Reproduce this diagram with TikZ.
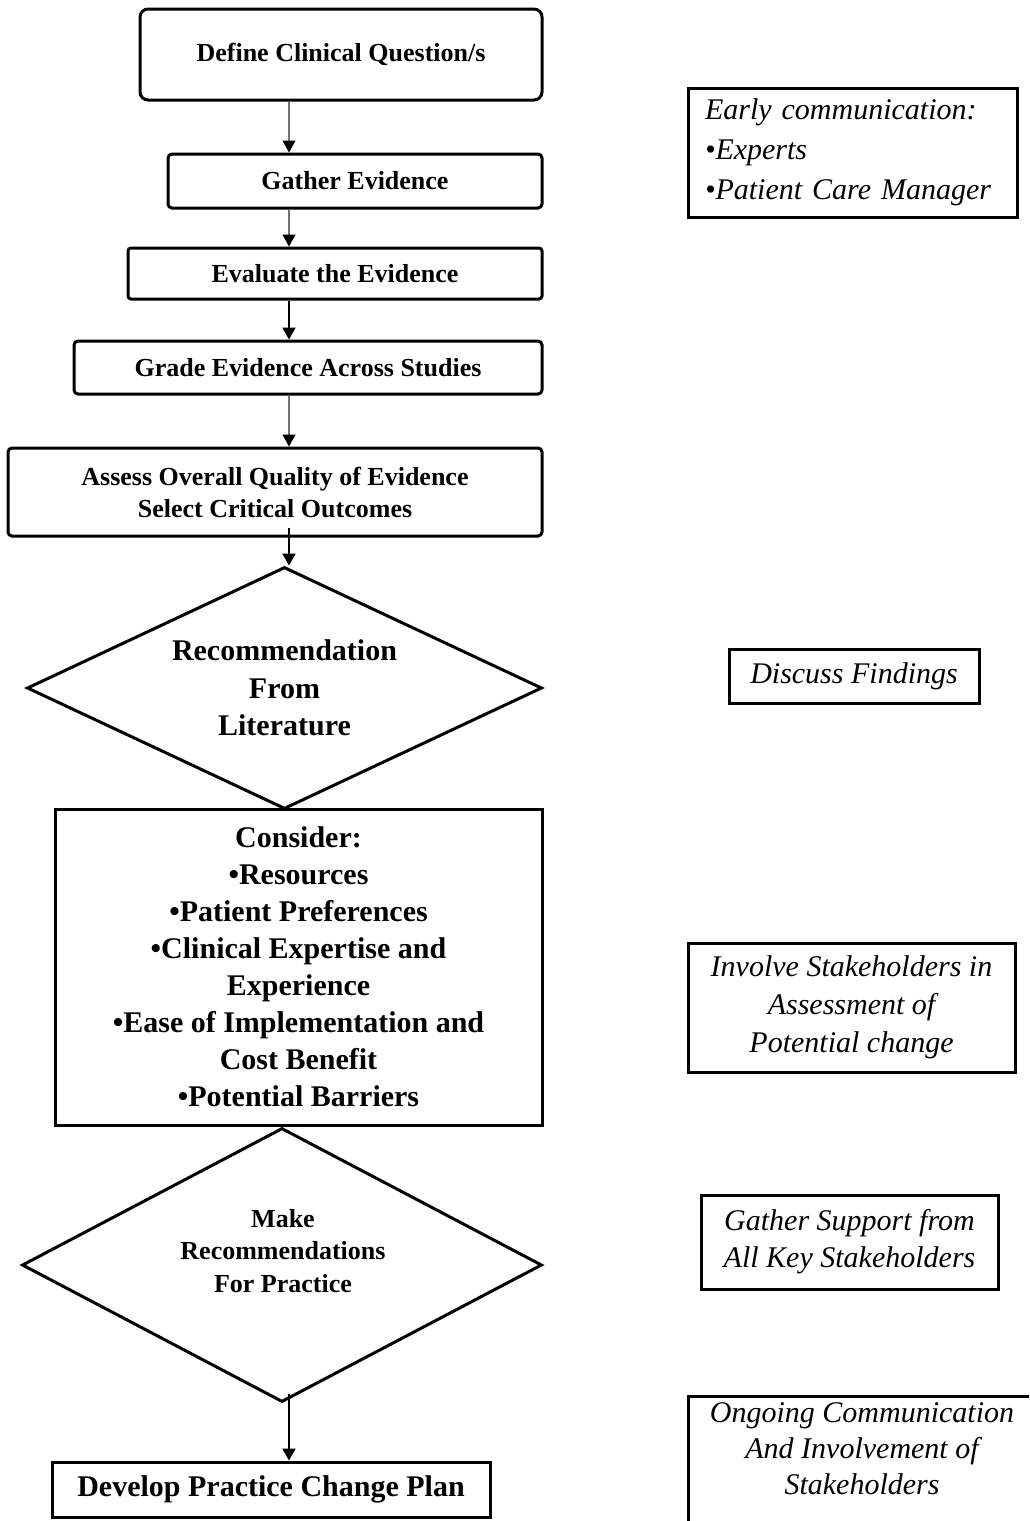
\documentclass[tikz,border=0pt]{standalone}
\usepackage{fontspec}
\setmainfont{Liberation Serif}
\usetikzlibrary{shapes.geometric,arrows.meta}

\begin{document}
\begin{tikzpicture}[x=1pt,y=-1pt,
  stepbox/.style={draw, line width=3pt, inner sep=0pt, align=center,
    font=\fontsize{26}{32}\selectfont\bfseries},
  bigbox/.style={draw, line width=3pt, inner sep=0pt, align=center,
    font=\fontsize{30}{37}\selectfont\bfseries},
  sidebox/.style={draw, line width=3pt, inner sep=0pt, align=center,
    font=\fontsize{30}{38}\selectfont\itshape},
  decision/.style={diamond, draw, line width=3pt, inner sep=0pt, align=center},
  thinarr/.style={draw=black!55, line width=1.2pt,
    -{Triangle[width=13pt,length=12pt,color=black]}},
  thickarr/.style={draw=black, line width=2pt,
    -{Triangle[width=13pt,length=12pt]}}
]
\useasboundingbox (0,0) rectangle (1029,1521);
\clip (0,0) rectangle (1029,1521);

% main flow
\node[stepbox, rounded corners=8pt, minimum width=402pt, minimum height=91pt]
  (def) at (341,54.5) {Define Clinical Question/s};
\node[stepbox, rounded corners=4pt, minimum width=374pt, minimum height=54pt]
  (gat) at (355,181) {Gather Evidence};
\node[stepbox, rounded corners=3pt, minimum width=414pt, minimum height=51pt]
  (eva) at (335,273.5) {Evaluate the Evidence};
\node[stepbox, rounded corners=4pt, minimum width=468pt, minimum height=53pt]
  (gra) at (308,367.5) {Grade Evidence Across Studies};
\node[stepbox, rounded corners=4pt, minimum width=534pt, minimum height=88pt]
  (ass) at (275,492) {Assess Overall Quality of Evidence\\Select Critical Outcomes};
\node[decision, aspect=2.13, minimum width=515pt, minimum height=242pt,
  font=\fontsize{30}{37.5}\selectfont\bfseries]
  (d1) at (284.5,688) {Recommendation\\From\\Literature};
\node[bigbox, minimum width=487pt, minimum height=316pt]
  (con) at (298.5,967) {Consider:\\•Resources\\•Patient Preferences\\•Clinical Expertise and\\Experience\\•Ease of Implementation and\\Cost Benefit\\•Potential Barriers};
\node[decision, aspect=1.9, minimum width=520pt, minimum height=274pt]
  (d2) at (282,1265) {};
\node[align=center, inner sep=0pt, font=\fontsize{26}{32.5}\selectfont\bfseries]
  (d2t) at (283,1251) {Make\\Recommendations\\For Practice};
\node[bigbox, minimum width=438pt, minimum height=55pt]
  (dev) at (271,1489.5) {Develop Practice Change Plan};

% side notes
\node[sidebox, align=left, text width=295pt, inner xsep=17pt, minimum height=129pt,
  font=\fontsize{30}{40}\selectfont\itshape]
  (early) at (852.5,152.5) {Early communication:\\•Experts\\•Patient Care Manager};
\node[sidebox, minimum width=250pt, minimum height=54pt]
  (disc) at (854,676) {Discuss Findings};
\node[sidebox, minimum width=327pt, minimum height=129pt]
  (inv) at (851.5,1007.5) {Involve Stakeholders in\\Assessment of\\Potential change};
\node[sidebox, minimum width=297pt, minimum height=94pt,
  font=\fontsize{30}{37}\selectfont\itshape]
  (gsup) at (849.5,1242) {Gather Support from\\All Key Stakeholders};
\node[sidebox, minimum width=348pt, minimum height=148pt]
  (ong) at (862,1470) {};
\node[align=center, inner sep=0pt, font=\fontsize{30}{36}\selectfont\itshape]
  (ongt) at (862,1449) {Ongoing Communication\\And Involvement of\\Stakeholders};

% connectors
\coordinate (ax) at (289,0);
\draw[thinarr] (def.south -| ax) -- (gat.north -| ax);
\draw[thinarr] (gat.south -| ax) -- (eva.north -| ax);
\draw[thickarr] (eva.south -| ax) -- (gra.north -| ax);
\draw[thinarr] (gra.south -| ax) -- (ass.north -| ax);
\draw[thickarr] ([yshift=10pt]ass.south -| ax) -- (d1.north -| ax);
\draw[thickarr] ([yshift=10pt]d2.south -| ax) -- (dev.north -| ax);
\end{tikzpicture}
\end{document}
